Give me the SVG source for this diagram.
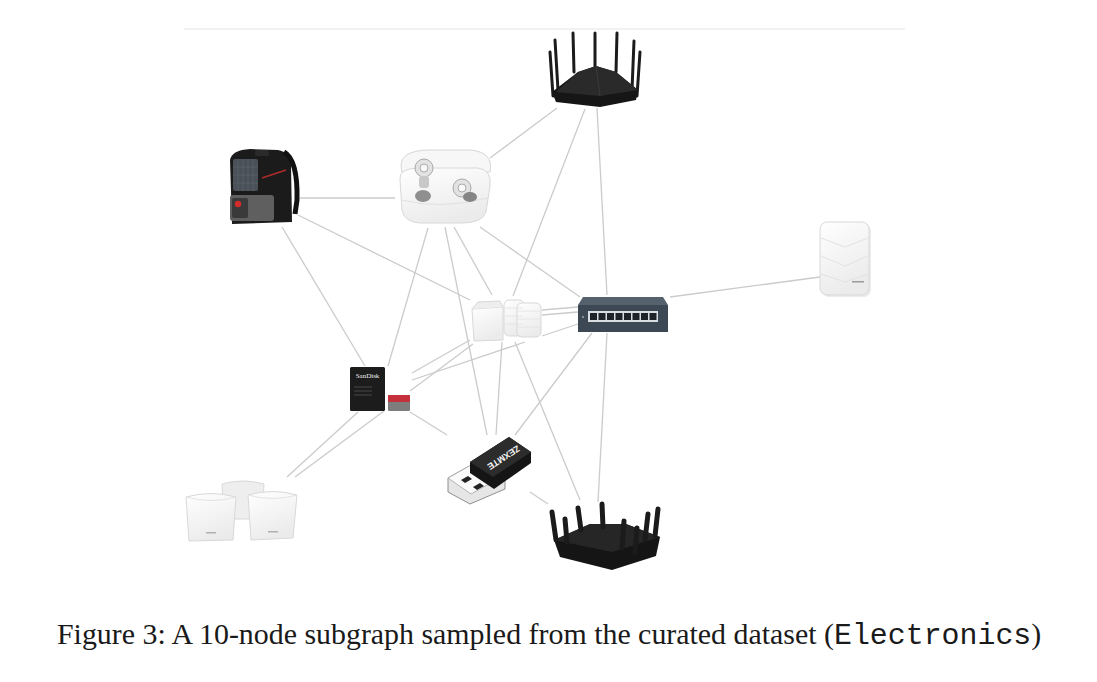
<svg xmlns="http://www.w3.org/2000/svg" width="1097" height="682" viewBox="0 0 1097 682">
<style>
.edge{stroke:#cbcbcb;stroke-width:1.3;fill:none}
.ant{stroke:#1b1b1b;stroke-linecap:round;fill:none}
.white{fill:url(#wg);stroke:#d8d8d8;stroke-width:1}
.shade{fill:#eeeeee;stroke:#d8d8d8;stroke-width:1}
.cap{font-family:"Liberation Serif","Times New Roman",serif;font-size:29.9px;fill:#1a1a1a}
.mono{font-family:"Liberation Mono","Courier New",monospace;font-weight:normal}
</style>
<defs>
<linearGradient id="wg" x1="0" y1="0" x2="0.4" y2="1">
<stop offset="0" stop-color="#ffffff"/>
<stop offset="1" stop-color="#ebebeb"/>
</linearGradient>
</defs>
<rect width="1097" height="682" fill="#ffffff"/>
<line x1="184" y1="29" x2="905" y2="29" stroke="#f2f2f2" stroke-width="2"/>

<g id="connectors">
<line class="edge" x1="490" y1="158" x2="557" y2="108"/>
<line class="edge" x1="585" y1="109" x2="513" y2="296"/>
<line class="edge" x1="597" y1="108" x2="607" y2="295"/>
<line class="edge" x1="300" y1="198" x2="395" y2="198"/>
<line class="edge" x1="298" y1="215" x2="470" y2="300"/>
<line class="edge" x1="282" y1="227" x2="365" y2="366"/>
<line class="edge" x1="428" y1="228" x2="388" y2="366"/>
<line class="edge" x1="445" y1="227" x2="487" y2="435"/>
<line class="edge" x1="454" y1="227" x2="492" y2="295"/>
<line class="edge" x1="480" y1="227" x2="580" y2="297"/>
<line class="edge" x1="670" y1="297" x2="820" y2="277"/>
<line class="edge" x1="542" y1="310" x2="578" y2="307"/>
<line class="edge" x1="542" y1="315" x2="578" y2="312"/>
<path class="edge" d="M412,380 L525,342 M542,336 L578,324"/>
<line class="edge" x1="412" y1="373" x2="470" y2="340"/>
<path class="edge" d="M295,477 L384,411 M410,391 L473,344"/>
<line class="edge" x1="287" y1="477" x2="358" y2="412"/>
<line class="edge" x1="410" y1="412" x2="447" y2="435"/>
<line class="edge" x1="502" y1="342" x2="496" y2="435"/>
<line class="edge" x1="592" y1="333" x2="515" y2="435"/>
<line class="edge" x1="515" y1="342" x2="580" y2="500"/>
<line class="edge" x1="530" y1="492" x2="548" y2="504"/>
<line class="edge" x1="607" y1="333" x2="598" y2="502"/>
</g>

<g id="router-top">
<path class="ant" stroke-width="3" d="M550,52 L553,96 M555,40 L558,90 M573,33 L574,72 M595,33 L595,68 M617,33 L616,72 M634,41 L632,90 M640,52 L637,96"/>
<path d="M552,92 L578,72 L596,66 L616,72 L638,90 L636,100 L600,107 L556,102 Z" fill="#161616"/>
<path d="M578,72 L596,66 L616,72 L638,90 L600,96 L556,92 Z" fill="#2a2a2a"/>
<path d="M596,66 L600,96" stroke="#3a3a3a" stroke-width="1"/>
</g>

<g id="backpack">
<path d="M230,160 Q232,150 250,149 L278,150 Q290,152 291,165 L292,222 L232,224 Z" fill="#1b1b1b"/>
<path d="M284,152 Q298,160 297,200 L295,214" stroke="#111" stroke-width="5" fill="none"/>
<rect x="233" y="159" width="25" height="32" rx="2" fill="#4a5058"/>
<path d="M238,159 V191 M243,159 V191 M248,159 V191 M253,159 V191 M233,167 H258 M233,175 H258 M233,183 H258" stroke="#5d636b" stroke-width="0.7"/>
<rect x="230" y="195" width="44" height="26" rx="3" fill="#5f5f5f"/>
<rect x="232" y="198" width="16" height="20" rx="2" fill="#3a3a3a"/>
<circle cx="238" cy="204" r="3.2" fill="#d22b2b"/>
<path d="M262,178 L286,170" stroke="#b02a2a" stroke-width="1.5"/>
<rect x="255" y="150" width="14" height="6" rx="2" fill="#2a2a2a"/>
</g>

<g id="earbuds">
<path d="M402,172 Q396,150 430,150 L470,150 Q494,152 490,172 Z" fill="#f7f7f7" stroke="#d2d2d2" stroke-width="1" opacity="0.9"/>
<path d="M400,180 Q398,168 420,168 L478,168 Q492,170 490,186 L486,212 Q482,223 462,223 L420,223 Q404,222 402,210 Z" class="white"/>
<path d="M402,200 Q440,210 488,198" stroke="#e0e0e0" fill="none"/>
<circle cx="424" cy="168" r="9" fill="#e2e2e2" stroke="#a8a8a8"/>
<circle cx="424" cy="168" r="4" fill="#f8f8f8" stroke="#aaa"/>
<rect x="419" y="176" width="10" height="12" rx="3" fill="#c8c8c8"/>
<ellipse cx="423" cy="196" rx="8" ry="6" fill="#8f8f8f"/>
<circle cx="462" cy="188" r="9" fill="#e2e2e2" stroke="#a8a8a8"/>
<circle cx="462" cy="188" r="4" fill="#f8f8f8" stroke="#aaa"/>
<ellipse cx="470" cy="197" rx="7" ry="5" fill="#858585"/>
</g>

<g id="mesh-pair">
<path d="M472,309 L503,307 L503,340 L474,341 Z" class="white"/>
<path d="M472,309 L478,302 L500,301 L503,307" class="shade"/>
<rect x="504" y="300" width="20" height="36" rx="5" class="white"/>
<rect x="517" y="303" width="24" height="34" rx="5" class="white"/>
<path d="M505,308 H523 M505,316 H523 M505,324 H523 M518,311 H540 M518,319 H540 M518,327 H540" stroke="#e2e2e2" stroke-width="0.8"/>
</g>

<g id="switch">
<path d="M583,297 L663,297 L668,305 L578,305 Z" fill="#55626e"/>
<rect x="578" y="305" width="90" height="27" fill="#3c4854"/>
<rect x="588" y="311" width="70" height="11" fill="#d8dde2"/>
<g fill="#1d232a">
<rect x="590" y="313" width="7" height="7"/><rect x="598.5" y="313" width="7" height="7"/><rect x="607" y="313" width="7" height="7"/><rect x="615.5" y="313" width="7" height="7"/>
<rect x="624" y="313" width="7" height="7"/><rect x="632.5" y="313" width="7" height="7"/><rect x="641" y="313" width="7" height="7"/><rect x="649.5" y="313" width="7" height="7"/>
</g>
<circle cx="583" cy="317" r="1" fill="#9aa4ae"/>
</g>

<g id="access-point">
<rect x="822" y="224" width="49" height="73" rx="7" fill="#ececec"/>
<rect x="820" y="222" width="49" height="73" rx="7" class="white"/>
<path d="M821,238 L845,247 L868,238 M821,256 L845,266 L868,256 M821,274 L845,282 L868,274" stroke="#e2e2e2" stroke-width="1" fill="none"/>
<rect x="852" y="281" width="12" height="1.5" fill="#9a9a9a"/>
</g>

<g id="sandisk">
<rect x="350" y="367" width="35" height="44" rx="1.5" fill="#1c1c1c"/>
<text x="367.5" y="378" font-family="Liberation Serif, serif" font-size="7" fill="#f0f0f0" text-anchor="middle">SanDisk</text>
<path d="M354,387 H372 M354,391 H372 M354,395 H372" stroke="#555" stroke-width="0.8"/>
<rect x="388" y="395" width="22" height="16" rx="1" fill="#7d7d7d"/>
<rect x="388" y="395" width="22" height="7" rx="1" fill="#c4313b"/>
</g>

<g id="usb-adapter">
<path d="M448,478 L480,460 L505,475 L505,489 L470,504 L448,492 Z" fill="#e6e6e6" stroke="#8f8f8f" stroke-width="1"/>
<path d="M448,478 L480,460 L505,475 L471,494 Z" fill="#fafafa" stroke="#a5a5a5" stroke-width="0.8"/>
<path d="M461,480 L468,476 L472,479 L465,483 Z M473,487 L480,483 L484,486 L477,490 Z" fill="#222"/>
<path d="M470,462 L509,437 L531,452 L531,463 L494,489 L470,473 Z" fill="#151515"/>
<path d="M470,462 L509,437 L531,452 L493,477 Z" fill="#2c2c2c"/>
<text x="0" y="0" transform="translate(502,455) rotate(147)" font-family="Liberation Sans, sans-serif" font-size="9" font-weight="bold" fill="#f2f2f2" text-anchor="middle">ZEXMTE</text>
</g>

<g id="router-bottom">
<path d="M554,540 L590,524 L626,524 L660,537 L656,556 L612,570 L560,557 Z" fill="#151515"/>
<path d="M554,540 L590,524 L626,524 L660,537 L612,552 Z" fill="#262626"/>
<path class="ant" stroke="#262626" stroke-width="5" d="M552,512 L556,540 M578,508 L581,530 M602,504 L603,527 M624,521 L622,548 M648,514 L645,540 M658,509 L655,536 M565,519 L567,542 M637,528 L635,552"/>
</g>

<g id="mesh-three">
<path d="M222,484 Q243,478 264,484 L262,519 L224,519 Z" class="shade"/>
<path d="M186,497 Q211,490 236,497 L233,540 L189,541 Z" class="white"/>
<path d="M186,497 Q211,504 236,497" stroke="#e4e4e4" fill="none"/>
<path d="M248,495 Q273,488 297,495 L293,538 L251,540 Z" class="white"/>
<path d="M248,495 Q273,502 297,495" stroke="#e4e4e4" fill="none"/>
<rect x="206" y="532" width="10" height="1.5" fill="#b0b0b0"/>
<rect x="268" y="531" width="10" height="1.5" fill="#b0b0b0"/>
</g>

<text class="cap" x="57" y="644">Figure 3: A 10-node subgraph sampled from the curated dataset (<tspan class="mono">Electronics</tspan>)</text>
</svg>
